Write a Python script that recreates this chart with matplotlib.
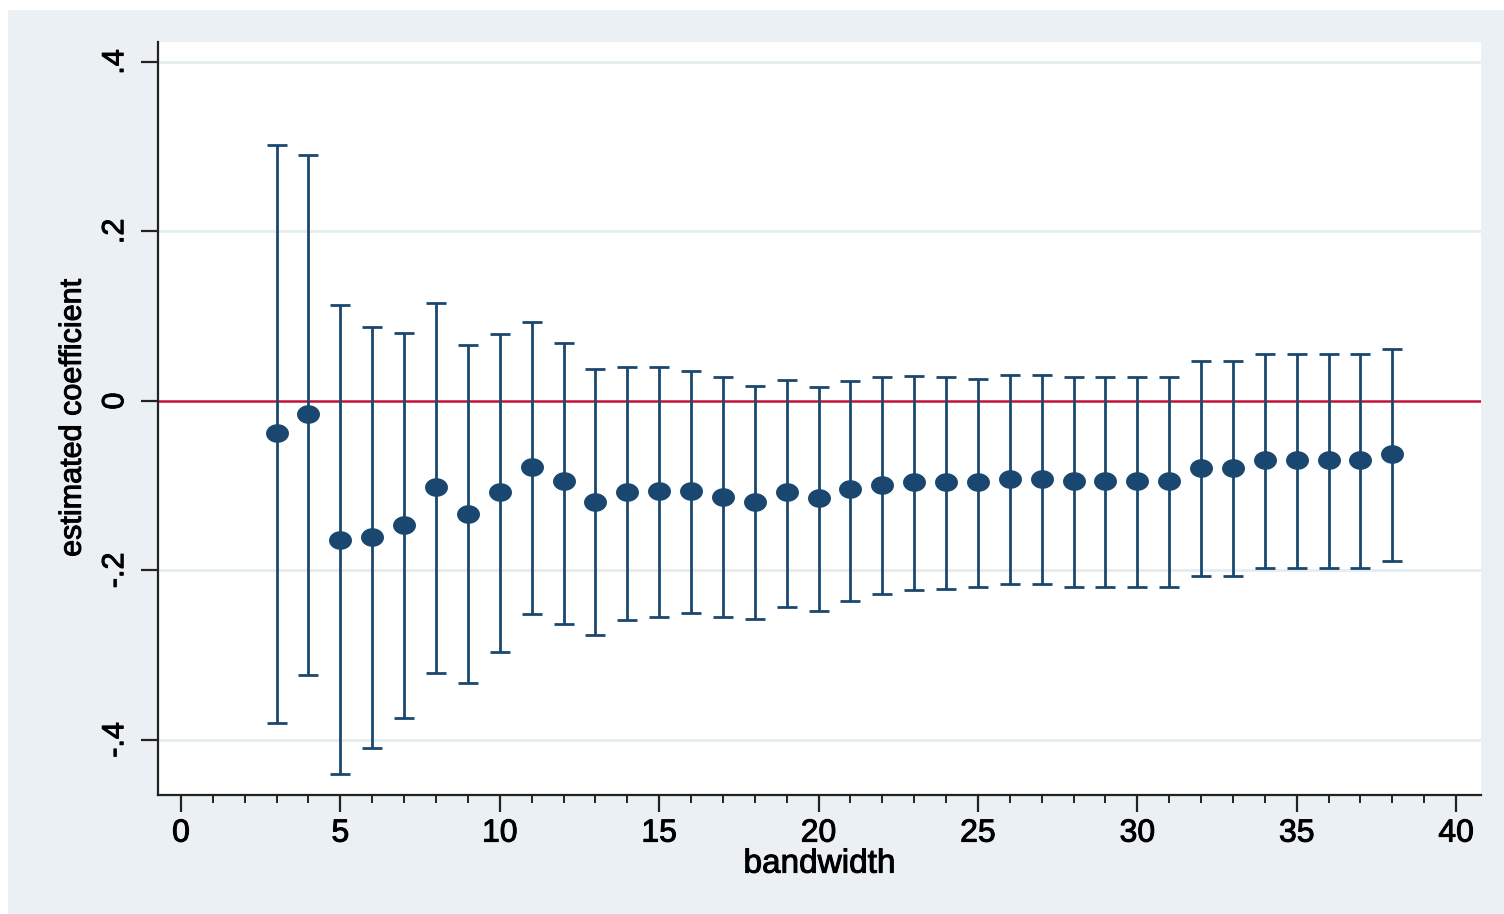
import matplotlib
matplotlib.use("Agg")
import matplotlib.pyplot as plt
import matplotlib.patheffects as pe
from matplotlib.patches import Rectangle
from matplotlib.path import Path
from matplotlib.ticker import MultipleLocator
import numpy as np

# bandwidths and estimates
bandwidth = list(range(3, 39))
coef = [-0.038, -0.015, -0.164, -0.160, -0.146, -0.102, -0.133, -0.108, -0.078, -0.095,
        -0.119, -0.108, -0.106, -0.106, -0.113, -0.119, -0.108, -0.115, -0.104, -0.099,
        -0.096, -0.096, -0.096, -0.092, -0.092, -0.094, -0.094, -0.094, -0.094, -0.079,
        -0.079, -0.070, -0.070, -0.070, -0.070, -0.063]
ci_upper = [0.302, 0.290, 0.113, 0.087, 0.080, 0.116, 0.066, 0.079, 0.093, 0.068,
            0.038, 0.040, 0.040, 0.035, 0.028, 0.018, 0.025, 0.017, 0.023, 0.028,
            0.030, 0.028, 0.026, 0.031, 0.031, 0.028, 0.028, 0.028, 0.028, 0.047,
            0.047, 0.056, 0.056, 0.056, 0.056, 0.061]
ci_lower = [-0.380, -0.323, -0.440, -0.409, -0.374, -0.321, -0.333, -0.296, -0.251, -0.263,
            -0.276, -0.258, -0.255, -0.250, -0.255, -0.257, -0.243, -0.248, -0.236, -0.228,
            -0.223, -0.222, -0.220, -0.216, -0.216, -0.219, -0.219, -0.219, -0.219, -0.206,
            -0.206, -0.197, -0.197, -0.197, -0.197, -0.189]
y_ticks = [-0.4, -0.2, 0, 0.2, 0.4]
y_ticklabels = ["-.4", "-.2", "0", ".2", ".4"]

navy = "#1a476f"
bg = "#eaf0f3"

plt.rcParams["font.family"] = ["Liberation Sans", "DejaVu Sans"]

fig = plt.figure(figsize=(15.04, 9.14), dpi=100, facecolor="white")
# stata-style background panel (thin white strip on the top and left)
fig.patches.append(Rectangle((8 / 1504, 0), 1, 1 - 10 / 914, transform=fig.transFigure,
                             facecolor=bg, edgecolor="none", zorder=-5))
ax = fig.add_axes([158 / 1504, 1 - 795 / 914, (1481 - 158) / 1504, (795 - 42) / 914])
ax.set_facecolor("white")

# slightly wide ellipse marker, like the stretched original
t = np.linspace(0, 2 * np.pi, 60)
ellipse = Path(np.column_stack([1.25 * np.cos(t), np.sin(t)]))

coef = np.array(coef)
err = [coef - np.array(ci_lower), np.array(ci_upper) - coef]
ax.errorbar(bandwidth, coef, yerr=err, fmt="none", ecolor=navy, elinewidth=2.0,
            capsize=7.5, capthick=2.0, zorder=3)
ax.plot(bandwidth, coef, linestyle="none", marker=ellipse, markersize=15.5,
        color=navy, zorder=4)

ax.axhline(0, color="#c5103a", linewidth=1.8, zorder=2)

ax.set_xlim(-0.72, 40.78)
ax.set_ylim(-0.465, 0.4236)
ax.xaxis.set_major_locator(MultipleLocator(5))
ax.xaxis.set_minor_locator(MultipleLocator(1))
ax.set_yticks(y_ticks)
ax.set_yticklabels(y_ticklabels, rotation=90, va="center")
for v in y_ticks:
    if v != 0:
        ax.axhline(v, color="#e4edf0", linewidth=2.0, zorder=1)

for s in ["top", "right"]:
    ax.spines[s].set_visible(False)
for s in ["left", "bottom"]:
    ax.spines[s].set_linewidth(1.6)
    ax.spines[s].set_color("#222222")

ax.tick_params(axis="both", which="major", length=12, width=1.6, labelsize=22, color="#222222")
ax.tick_params(axis="x", which="major", labelsize=23, pad=5)
ax.tick_params(axis="x", which="minor", length=6, width=1.4, color="#222222")
ax.tick_params(axis="y", which="major", pad=8)

ax.set_xlabel("bandwidth", fontsize=24, labelpad=0)
ax.set_ylabel("estimated coefficient", fontsize=22, labelpad=9)

# the original text looks a bit heavier than regular weight
thick = [pe.withStroke(linewidth=0.7, foreground="black")]
for txt in ax.get_xticklabels() + ax.get_yticklabels() + [ax.xaxis.label, ax.yaxis.label]:
    txt.set_path_effects(thick)

fig.savefig("out.png", dpi=100, facecolor=fig.get_facecolor())
